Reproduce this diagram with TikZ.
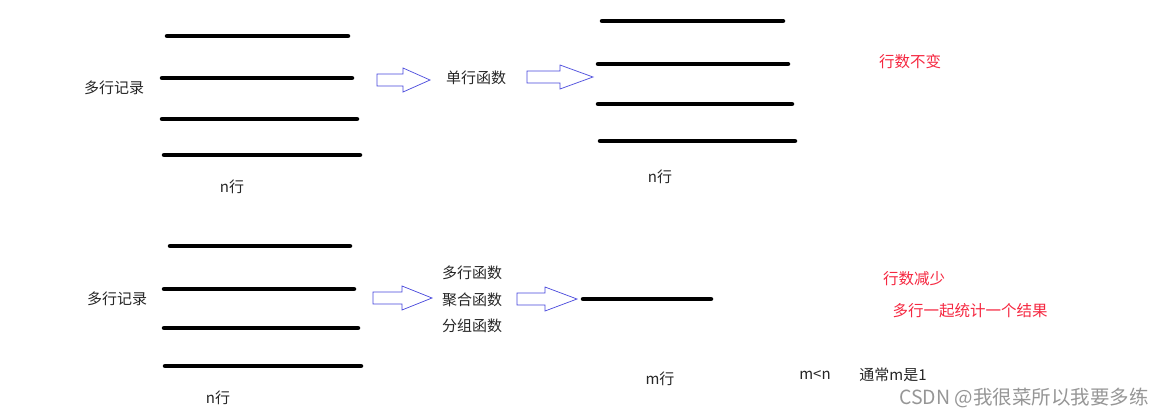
\documentclass[tikz,border=0pt]{standalone}
\usepackage{fontspec}
\setmainfont{Noto Sans CJK SC}
\newfontfamily\cjk{Noto Sans CJK SC}
\definecolor{arrowblue}{RGB}{70,70,220}
\definecolor{notered}{RGB}{245,40,65}
\definecolor{markgray}{RGB}{150,150,150}
\tikzset{
  rowline/.style={line width=4.5pt, line cap=round, black},
  blockarrow/.style={arrowblue, line width=0.7pt, fill=white},
  lbl/.style={inner sep=0pt, font=\fontsize{15}{17}\selectfont\cjk, text=black!85},
  note/.style={inner sep=0pt, font=\fontsize{15.5}{17}\selectfont\cjk, text=notered},
}
\begin{document}
\begin{tikzpicture}[x=1pt,y=-1pt]
\useasboundingbox (0,0) rectangle (1163,416);

% ---- upper row: single-row functions ----
\node[lbl] (srcA) at (114,88) {多行记录};
\draw[rowline] (167,36) -- (348,36);
\draw[rowline] (162,78) -- (352,78);
\draw[rowline] (162,119) -- (357,119);
\draw[rowline] (164,155) -- (360,155);
\node[lbl] (nA) at (232,187) {n行};

\draw[blockarrow]
  (377,74) -- (403,74) -- (403,68) -- (430,80) -- (403,92) -- (403,86) -- (377,86) -- cycle;
\node[lbl] (single) at (476,78) {单行函数};
\draw[blockarrow]
  (527,71) -- (560,71) -- (560,65) -- (593,77) -- (560,89) -- (560,83) -- (527,83) -- cycle;

\draw[rowline] (602,21) -- (783,21);
\draw[rowline] (598,64) -- (788,64);
\draw[rowline] (598,104) -- (792,104);
\draw[rowline] (600,141) -- (795,141);
\node[lbl] (nB) at (660,177) {n行};

\node[note] (same) at (910,62) {行数不变};

% ---- lower row: multi-row functions ----
\node[lbl] (srcB) at (117,299) {多行记录};
\draw[rowline] (170,246) -- (350,246);
\draw[rowline] (164,289) -- (354,289);
\draw[rowline] (164,328) -- (358,328);
\draw[rowline] (165,366) -- (361,366);
\node[lbl] (nC) at (218,398) {n行};

\draw[blockarrow]
  (373,292) -- (402,292) -- (402,286) -- (432,298) -- (402,310) -- (402,304) -- (373,304) -- cycle;
\node[lbl] (multi) at (472,273) {多行函数};
\node[lbl] (agg) at (472,300) {聚合函数};
\node[lbl] (group) at (472,326) {分组函数};
\draw[blockarrow]
  (517,293) -- (545,293) -- (545,287) -- (577,299) -- (545,311) -- (545,305) -- (517,305) -- cycle;

\draw[rowline] (583,299) -- (711,299);
\node[lbl] (mA) at (660,379) {m行};

\node[note] (fewer) at (914,279) {行数减少};
\node[note] (onewhole) at (970,311) {多行一起统计一个结果};
\node[lbl] (mlt) at (815,375) {m<n};
\node[lbl] (usual) at (893,375) {通常m是1};

\node[inner sep=0pt, font=\fontsize{19.5}{21}\selectfont\cjk, text=markgray, anchor=east] (mark) at (1149,398) {CSDN @我很菜所以我要多练};
\end{tikzpicture}
\end{document}
